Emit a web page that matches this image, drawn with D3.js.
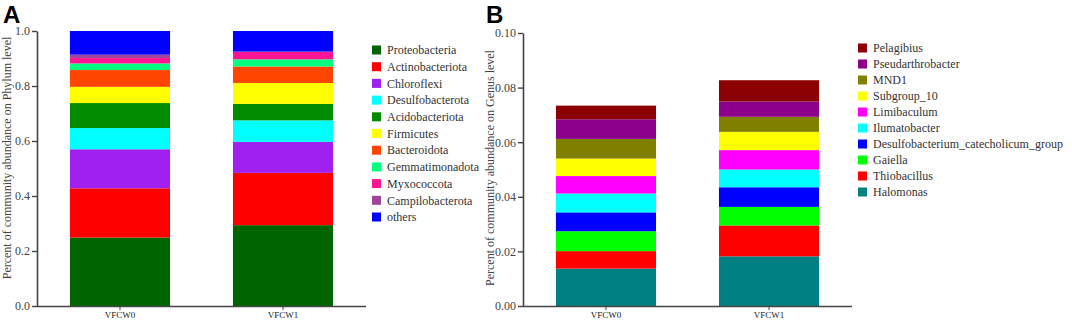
<!DOCTYPE html>
<html lang="en">
<head>
    <meta charset="UTF-8" />
    <title>Community abundance - Phylum and Genus level</title>
    <script src="https://d3js.org/d3.v7.min.js"></script>
    <style>
        body {
            margin: 0;
            background: #fff;
        }
        svg { display: block; }
        .axis path, .axis line { stroke: #444; }
    </style>
</head>
<body>
<script>
    const SERIF = '"Liberation Serif", "Times New Roman", serif';

    // samples
    const samples = ['VFCW0', 'VFCW1'];

    // panel A - phylum level (bottom to top)
    const phyla = ['Proteobacteria', 'Actinobacteriota', 'Chloroflexi', 'Desulfobacterota', 'Acidobacteriota',
        'Firmicutes', 'Bacteroidota', 'Gemmatimonadota', 'Myxococcota', 'Campilobacterota', 'others'];
    const phylumColors = ['#006400', '#ff0000', '#a020f0', '#00ffff', '#008b00',
        '#ffff00', '#ff4500', '#00ff7f', '#ff1493', '#a0449a', '#0000ff'];
    const phylumVFCW0 = [0.249, 0.179, 0.142, 0.077, 0.091, 0.059, 0.061, 0.024, 0.020, 0.012, 0.086];
    const phylumVFCW1 = [0.294, 0.190, 0.113, 0.078, 0.060, 0.076, 0.060, 0.026, 0.027, 0.001, 0.075];
    const phylumTicks = ['0.0', '0.2', '0.4', '0.6', '0.8', '1.0'];

    // panel B - genus level (bottom to top)
    const genera = ['Halomonas', 'Thiobacillus', 'Gaiella', 'Desulfobacterium_catecholicum_group', 'Ilumatobacter',
        'Limibaculum', 'Subgroup_10', 'MND1', 'Pseudarthrobacter', 'Pelagibius'];
    const genusColors = ['#008080', '#ff0000', '#00ff00', '#0000ff', '#00ffff',
        '#ff00ff', '#ffff00', '#808000', '#8b008b', '#8b0000'];
    const genusVFCW0 = [0.0137, 0.0064, 0.0073, 0.0069, 0.0069, 0.0064, 0.0064, 0.0072, 0.0072, 0.0050];
    const genusVFCW1 = [0.0182, 0.0113, 0.0068, 0.0072, 0.0065, 0.0071, 0.0067, 0.0055, 0.0056, 0.0078];
    const genusTicks = ['0.00', '0.02', '0.04', '0.06', '0.08', '0.10'];

    const svg = d3.select('body').append('svg')
        .attr('width', 1072).attr('height', 322)
        .style('font-family', SERIF);

    function drawPanel(cfg) {
        const g = svg.append('g');

        const x = d3.scaleBand().domain(samples)
            .range([cfg.left, cfg.right])
            .paddingInner(cfg.pIn).paddingOuter(cfg.pOut);
        const y = d3.scaleLinear().domain([0, cfg.max]).range([cfg.bottom, cfg.top]);

        // stacked data
        const rows = samples.map((s, i) => {
            const o = { sample: s };
            cfg.names.forEach((n, j) => { o[n] = cfg.values[i][j]; });
            return o;
        });
        const stack = d3.stack().keys(cfg.names)(rows);

        g.selectAll('g.layer')
            .data(stack)
            .enter().append('g')
            .attr('fill', (d, i) => cfg.colors[i])
            .selectAll('rect')
            .data(d => d)
            .enter().append('rect')
            .attr('x', d => x(d.data.sample))
            .attr('width', x.bandwidth())
            .attr('y', d => y(d[1]))
            .attr('height', d => y(d[0]) - y(d[1]));

        // y axis
        const yAxis = d3.axisLeft(y)
            .tickValues(cfg.ticks.map(Number))
            .tickFormat((d, i) => cfg.ticks[i])
            .tickSize(5).tickSizeOuter(0);
        const ya = g.append('g').attr('class', 'axis')
            .attr('transform', `translate(${cfg.left},0)`)
            .call(yAxis);
        ya.attr('font-family', null);
        ya.select('.domain').attr('stroke-width', 1.6);
        ya.selectAll('line').attr('stroke-width', 1.4);
        ya.selectAll('text').attr('x', -7)
            .style('font-family', SERIF).style('font-size', '12px').attr('fill', '#444');

        // x axis
        const xa = g.append('g').attr('class', 'axis')
            .attr('transform', `translate(0,${cfg.bottom})`)
            .call(d3.axisBottom(x).tickSize(4).tickSizeOuter(0));
        xa.attr('font-family', null);
        xa.select('.domain').attr('d', `M${cfg.left},0.5H${cfg.axisEnd}`).attr('stroke-width', 1.6);
        xa.selectAll('text').attr('dy', '0.6em')
            .style('font-family', SERIF).style('font-size', '9px').attr('fill', '#222');

        // y title
        g.append('text')
            .attr('transform', `translate(${cfg.titleX},${cfg.titleY}) rotate(-90)`)
            .attr('text-anchor', 'middle')
            .style('font-size', '12px').attr('fill', '#444')
            .text(cfg.yTitle);

        // panel letter
        g.append('text')
            .attr('x', cfg.tagX).attr('y', 23)
            .style('font-family', '"Liberation Sans", Arial, sans-serif')
            .style('font-weight', 'bold').style('font-size', '24px')
            .text(cfg.tag);

        // legend
        let legendItems = cfg.names.map((n, i) => ({ name: n, color: cfg.colors[i] }));
        if (cfg.legendReverse) legendItems = legendItems.reverse();
        const lg = g.append('g')
            .attr('transform', `translate(${cfg.legendX},${cfg.legendY})`);
        const item = lg.selectAll('g').data(legendItems).enter().append('g')
            .attr('transform', (d, i) => `translate(0,${i * cfg.legendStep})`);
        item.append('rect').attr('x', 0).attr('y', -4.5).attr('width', 9).attr('height', 9)
            .attr('fill', d => d.color);
        item.append('text').attr('x', 15).attr('y', 0).attr('dy', '0.35em')
            .style('font-size', '12px').attr('fill', '#333')
            .text(d => d.name);
    }

    drawPanel({
        tag: 'A', tagX: 3,
        names: phyla, colors: phylumColors, values: [phylumVFCW0, phylumVFCW1],
        ticks: phylumTicks, max: 1.0,
        left: 37, right: 366, axisEnd: 366, top: 31, bottom: 306,
        pIn: 0.386, pOut: 0.202,
        yTitle: 'Percent of community abundance on Phylum level', titleX: 11, titleY: 158,
        legendX: 372, legendY: 50, legendStep: 16.7, legendReverse: false
    });

    drawPanel({
        tag: 'B', tagX: 486,
        names: genera, colors: genusColors, values: [genusVFCW0, genusVFCW1],
        ticks: genusTicks, max: 0.10,
        left: 523, right: 852, axisEnd: 852, top: 33, bottom: 306,
        pIn: 0.386, pOut: 0.202,
        yTitle: 'Percent of community abundance on Genus level', titleX: 494, titleY: 168,
        legendX: 858, legendY: 48, legendStep: 16, legendReverse: true
    });
</script>
</body>
</html>
